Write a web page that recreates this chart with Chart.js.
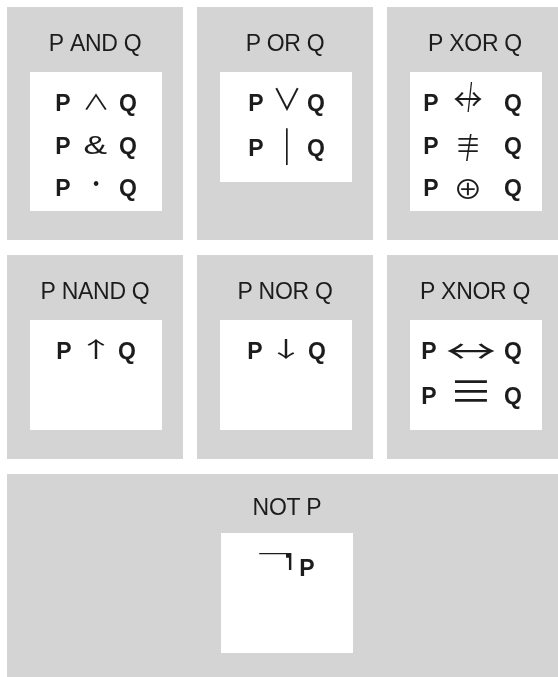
<!DOCTYPE html>
<html>
<head>
<meta charset="utf-8">
<script src="https://cdn.jsdelivr.net/npm/chart.js@4/dist/chart.umd.min.js"></script>
<style>
  html, body { margin: 0; padding: 0; background: #ffffff; }
  #wrap { width: 558px; height: 677px; }
</style>
</head>
<body>
<div id="wrap"><canvas id="myChart" width="558" height="677"></canvas></div>
<script>
// operations and their notations (left operand, operator, right operand)
const operations = ['P AND Q', 'P OR Q', 'P XOR Q', 'P NAND Q', 'P NOR Q', 'P XNOR Q', 'NOT P'];
const notations = [
  [['P', '∧', 'Q'], ['P', '&', 'Q'], ['P', '•', 'Q']],
  [['P', '∨', 'Q'], ['P', '|', 'Q']],
  [['P', '↮', 'Q'], ['P', '≢', 'Q'], ['P', '⊕', 'Q']],
  [['P', '↑', 'Q']],
  [['P', '↓', 'Q']],
  [['P', '↔', 'Q'], ['P', '≡', 'Q']],
  [['', '¬', 'P']]
];
// grid cell of every panel
const gridColumns = [0, 1, 2, 0, 1, 2, 1];
const gridRows = [0, 0, 0, 1, 1, 1, 2];
const columnSpans = [1, 1, 1, 1, 1, 1, 3];

// ---- layout / style (not data) ----
const PANEL_GRAY = '#d4d4d4';
const TEXT_COLOR = '#1c1c1c';
const GAP = 14;          // white gap between panels
const BOX_W = 132;       // white box width
// horizontal offsets from box centre: [left operand, operator, right operand]
const rowOffsets = [
  [-33, 0, 32], [-30, 1, 30], [-45, -8, 37],
  [-32, 0, 31], [-31, 0, 31], [-47, -5, 37],
  [0, -12, 20]
];
// how each operator glyph is fitted: [char, dx, width (0 = keep ratio), height, top vs baseline, font]
const MATH_FONT = '40px "Noto Sans CJK JP", "DejaVu Sans"';
const LATIN_FONT = '40px "Liberation Sans"';
const glyphParts = {
  '∧': [['∧', 0, 22, 17, -17]],
  '&': [['&', 0, 23, 18, -18, LATIN_FONT]],
  '•': [['•', 0, 5, 5, -15]],
  '∨': [['∨', 0, 24, 24, -24]],
  '|': [['|', 0, 2, 37, -28]],
  '↮': [['↔', 0, 28, 15, -20], ['/', 2, 5, 31, -30, LATIN_FONT]],
  '≢': [['≡', 0, 20, 15, -15], ['/', 1, 6, 28, -21, LATIN_FONT]],
  '⊕': [['⊕', 0, 22, 20, -17]],
  '↑': [['↑', 0, 18, 20, -20]],
  '↓': [['↓', 0, 18, 20, -20]],
  '↔': [['↔', 0, 48, 16, -16]],
  '≡': [['≡', 0, 33, 22, -23]],
  '¬': [['¬', 0, 33, 5, -23], ['|', 15, 3, 17, -23, LATIN_FONT]]
};

const lineCounts = notations.map(n => n.length);
const rowMaxLines = [0, 1, 2].map(r =>
  Math.max(...lineCounts.filter((c, i) => gridRows[i] === r)));
const boxHeight = n => 52 + 29 * Math.max(n, 2);

function drawFitted(ctx, op, cx, baseline) {
  glyphParts[op].forEach(([ch, dx, w, h, top, font]) => {
    ctx.font = font || MATH_FONT;
    ctx.textAlign = 'left';
    ctx.textBaseline = 'alphabetic';
    const m = ctx.measureText(ch);
    const gw = m.actualBoundingBoxLeft + m.actualBoundingBoxRight;
    const gh = m.actualBoundingBoxAscent + m.actualBoundingBoxDescent;
    const sy = h / gh;
    const sx = w ? w / gw : sy;
    const inkW = gw * sx;
    ctx.save();
    ctx.translate(cx + dx - inkW / 2, baseline + top);
    ctx.scale(sx, sy);
    ctx.fillText(ch, m.actualBoundingBoxLeft, m.actualBoundingBoxAscent);
    ctx.restore();
  });
}

const panelPlugin = {
  id: 'panels',
  beforeDatasetsDraw(chart) {
    const ctx = chart.ctx;
    const xs = chart.scales.x;
    const pitch = xs.getPixelForValue(1) - xs.getPixelForValue(0);
    chart.getDatasetMeta(0).data.forEach((pt, i) => {
      const cx = pt.x, bottom = pt.y;
      const isNot = operations[i] === 'NOT P';
      const grayH = isNot ? 204 : boxHeight(rowMaxLines[gridRows[i]]) + 94;
      const grayW = columnSpans[i] * pitch - GAP;
      const top = bottom - grayH;
      ctx.save();
      ctx.fillStyle = PANEL_GRAY;
      ctx.fillRect(cx - grayW / 2, top, grayW, grayH);

      // title
      ctx.fillStyle = TEXT_COLOR;
      ctx.font = '23px "Liberation Sans", Arial, sans-serif';
      ctx.textAlign = 'center';
      ctx.textBaseline = 'alphabetic';
      ctx.letterSpacing = '-0.3px';
      ctx.fillText(operations[i], cx + (isNot ? 2 : 0), top + (isNot ? 41 : 44));
      ctx.letterSpacing = '0px';

      // white box
      const boxTop = top + (isNot ? 59 : 65);
      const boxH = isNot ? 120 : boxHeight(lineCounts[i]);
      const boxCx = cx + (isNot ? 2 : 1);
      ctx.fillStyle = '#ffffff';
      ctx.fillRect(boxCx - BOX_W / 2, boxTop, BOX_W, boxH);

      // notations
      const linePitch = lineCounts[i] === 3 ? 42.5 : 45;
      const off = rowOffsets[i];
      notations[i].forEach((parts, k) => {
        const base = boxTop + (isNot ? 43 : 39) + k * linePitch;
        ctx.fillStyle = TEXT_COLOR;
        ctx.font = 'bold 23px "Liberation Sans", Arial, sans-serif';
        ctx.textAlign = 'center';
        if (parts[0]) ctx.fillText(parts[0], boxCx + off[0], base);
        if (parts[2]) ctx.fillText(parts[2], boxCx + off[2], base);
        drawFitted(ctx, parts[1], boxCx + off[1], base);
      });
      ctx.restore();
    });
  }
};

const ctx = document.getElementById('myChart').getContext('2d');
const myChart = new Chart(ctx, {
  type: 'scatter',
  data: {
    datasets: [{
      label: 'Panels',
      data: operations.map((op, i) => ({ x: gridColumns[i], y: gridRows[i] })),
      pointRadius: 0,
      pointHoverRadius: 0
    }]
  },
  options: {
    responsive: false,
    animation: false,
    devicePixelRatio: 1,
    layout: { padding: 0 },
    plugins: { legend: { display: false }, tooltip: { enabled: false } },
    events: [],
    scales: {
      // one column = 190px, column centres at 95 / 285 / 475
      x: { type: 'linear', display: false, min: -0.5, max: 558 / 190 - 0.5 },
      // row bottoms at 240 / 459 / 678
      y: { type: 'linear', display: false, reverse: true, min: -240 / 219, max: (677 - 240) / 219 }
    }
  },
  plugins: [panelPlugin]
});
</script>
</body>
</html>
